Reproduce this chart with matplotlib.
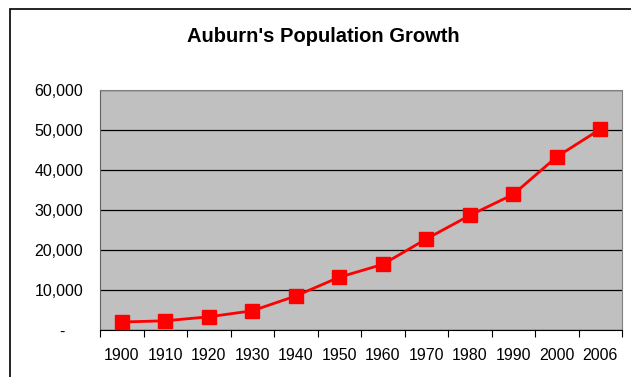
import matplotlib
matplotlib.use('Agg')
import matplotlib.pyplot as plt
from matplotlib.patches import Rectangle
from matplotlib.ticker import FuncFormatter

years = ['1900', '1910', '1920', '1930', '1940', '1950', '1960', '1970', '1980', '1990', '2000', '2006']
population = [2000, 2300, 3300, 4800, 8500, 13200, 16400, 22750, 28650, 33900, 43300, 50200]

plt.rcParams['font.family'] = ['Liberation Sans', 'DejaVu Sans']

fig = plt.figure(figsize=(6.31, 3.77), dpi=100)
# outer chart border (cut off at right and bottom like the screenshot)
fig.patches.append(Rectangle((10 / 631, -0.1), 1.2, 1 - 9 / 377 + 0.1, transform=fig.transFigure,
                             fill=False, edgecolor='black', linewidth=1.2))

ax = fig.add_axes([100 / 631, 1 - 330 / 377, 522 / 631, 240 / 377])
ax.set_facecolor('#c0c0c0')

x = list(range(len(years)))
ax.plot(x, population, color='#ff0000', linewidth=2.0, marker='s', markersize=9.5,
        markerfacecolor='#ff0000', markeredgecolor='#ff0000', zorder=3)

ax.set_xlim(-0.5, len(years) - 0.5)
ax.set_ylim(0, 60000)
ax.set_yticks(range(0, 60001, 10000))
# zero shows as a dash, like an accounting number format
ax.yaxis.set_major_formatter(FuncFormatter(lambda v, p: '-    ' if v == 0 else '{:,.0f}'.format(v)))
ax.yaxis.grid(True, color='black', linewidth=0.9)
ax.set_axisbelow(True)
ax.tick_params(axis='y', length=0, pad=12, labelsize=11.5)

ax.set_xticks(x)
ax.set_xticklabels(years)
ax.set_xticks([i - 0.5 for i in range(len(years) + 1)], minor=True)
ax.tick_params(axis='x', which='major', length=0, pad=13, labelsize=11.5)
ax.tick_params(axis='x', which='minor', length=5, width=0.8, direction='out')

for side in ['top', 'right']:
    ax.spines[side].set_color('#808080')
ax.spines['left'].set_color('#606060')
ax.spines['bottom'].set_color('black')

fig.text(323 / 631, 1 - 37 / 377, "Auburn's Population Growth", ha='center', va='center',
         fontsize=14.5, fontweight='bold')

fig.savefig('out.png', dpi=100)
